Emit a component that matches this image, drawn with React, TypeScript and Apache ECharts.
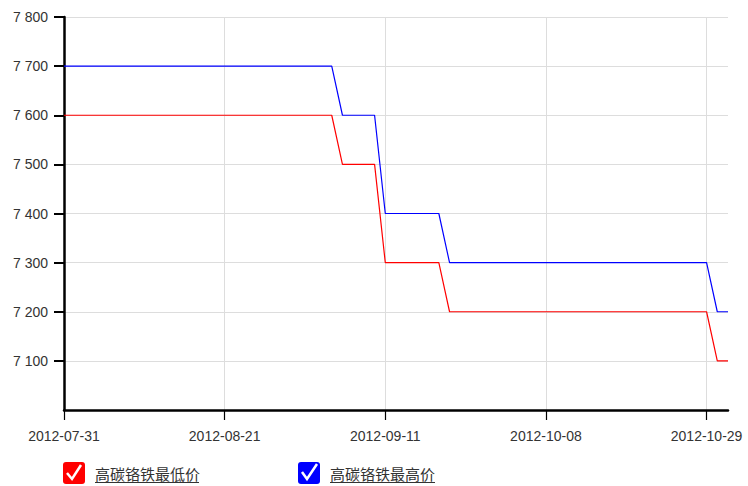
import React, { useEffect, useRef } from "react";
import * as echarts from "echarts";

const dates = [
  "2012-07-31", "2012-08-01", "2012-08-02", "2012-08-03", "2012-08-06", "2012-08-07", "2012-08-08", "2012-08-09",
  "2012-08-10", "2012-08-13", "2012-08-14", "2012-08-15", "2012-08-16", "2012-08-17", "2012-08-20", "2012-08-21",
  "2012-08-22", "2012-08-23", "2012-08-24", "2012-08-27", "2012-08-28", "2012-08-29", "2012-08-30", "2012-08-31",
  "2012-09-03", "2012-09-04", "2012-09-05", "2012-09-06", "2012-09-07", "2012-09-10", "2012-09-11",
  "2012-09-12", "2012-09-13", "2012-09-14", "2012-09-17", "2012-09-18", "2012-09-19", "2012-09-20", "2012-09-21",
  "2012-09-24", "2012-09-25", "2012-09-26", "2012-09-27", "2012-09-28", "2012-09-29", "2012-10-08",
  "2012-10-09", "2012-10-10", "2012-10-11", "2012-10-12", "2012-10-15", "2012-10-16", "2012-10-17", "2012-10-18",
  "2012-10-19", "2012-10-22", "2012-10-23", "2012-10-24", "2012-10-25", "2012-10-26", "2012-10-29",
  "2012-10-30", "2012-10-31",
];

const lowPrice = [
  7600, 7600, 7600, 7600, 7600, 7600, 7600, 7600, 7600, 7600, 7600, 7600, 7600, 7600, 7600, 7600,
  7600, 7600, 7600, 7600, 7600, 7600, 7600, 7600, 7600, 7600,
  7500, 7500, 7500, 7500,
  7300, 7300, 7300, 7300, 7300, 7300,
  7200, 7200, 7200, 7200, 7200, 7200, 7200, 7200, 7200, 7200, 7200, 7200, 7200, 7200, 7200, 7200,
  7200, 7200, 7200, 7200, 7200, 7200, 7200, 7200, 7200,
  7100, 7100,
];

const highPrice = [
  7700, 7700, 7700, 7700, 7700, 7700, 7700, 7700, 7700, 7700, 7700, 7700, 7700, 7700, 7700, 7700,
  7700, 7700, 7700, 7700, 7700, 7700, 7700, 7700, 7700, 7700,
  7600, 7600, 7600, 7600,
  7400, 7400, 7400, 7400, 7400, 7400,
  7300, 7300, 7300, 7300, 7300, 7300, 7300, 7300, 7300, 7300, 7300, 7300, 7300, 7300, 7300, 7300,
  7300, 7300, 7300, 7300, 7300, 7300, 7300, 7300, 7300,
  7200, 7200,
];

const seriesNames = ["高碳铬铁最低价", "高碳铬铁最高价"];
const seriesColors = ["#ff0000", "#0000ff"];

const latin = "'Liberation Sans', Arial, sans-serif";
const cjk = "'Noto Sans CJK SC', sans-serif";
const boxIcon =
  "path://M3,0 H19 A3,3 0 0 1 22,3 V19 A3,3 0 0 1 19,22 H3 A3,3 0 0 1 0,19 V3 A3,3 0 0 1 3,0 Z";

export default function App() {
  const ref = useRef<HTMLDivElement>(null);

  useEffect(() => {
    document.body.style.margin = "0";
    if (!ref.current) return;
    const chart = echarts.init(ref.current, undefined, { renderer: "svg" });
    chart.setOption({
      animation: false,
      backgroundColor: "#ffffff",
      grid: { left: 64, right: 20, top: 17, bottom: 76, containLabel: false },
      xAxis: {
        type: "category",
        data: dates,
        boundaryGap: false,
        axisLine: { show: true, lineStyle: { color: "#000", width: 2.5 } },
        axisTick: { show: true, interval: 14, length: 10, lineStyle: { color: "#000", width: 1.2 } },
        axisLabel: { interval: 14, fontSize: 14, color: "#333", margin: 19, fontFamily: latin },
        splitLine: { show: true, interval: 14, lineStyle: { color: "#dddddd", width: 1 } },
      },
      yAxis: {
        type: "value",
        min: 7000,
        max: 7800,
        interval: 100,
        axisLine: { show: true, lineStyle: { color: "#000", width: 2.5 } },
        axisTick: { show: true, length: 10, lineStyle: { color: "#000", width: 2 } },
        axisLabel: {
          showMinLabel: false,
          fontSize: 14,
          color: "#333",
          margin: 16,
          fontFamily: latin,
          formatter: (v: number) => {
            const s = String(v);
            return s.length > 3 ? s.slice(0, s.length - 3) + " " + s.slice(-3) : s;
          },
        },
        splitLine: { show: true, lineStyle: { color: "#dddddd", width: 1 } },
      },
      legend: {
        data: seriesNames,
        left: 63,
        top: 462,
        padding: 0,
        icon: boxIcon,
        itemWidth: 22,
        itemHeight: 22,
        itemGap: 98,
        textStyle: { fontSize: 15, color: "#333", fontFamily: cjk, padding: [0, 0, 0, 5] },
      },
      series: [
        {
          name: seriesNames[0],
          type: "line",
          data: lowPrice,
          symbol: "none",
          color: seriesColors[0],
          lineStyle: { color: seriesColors[0], width: 1.2 },
        },
        {
          name: seriesNames[1],
          type: "line",
          data: highPrice,
          symbol: "none",
          color: seriesColors[1],
          lineStyle: { color: seriesColors[1], width: 1.2 },
        },
      ],
      graphic: [
        {
          type: "polyline",
          z: 100,
          shape: { points: [[67, 473], [72, 479], [81, 465]] },
          style: { stroke: "#fff", lineWidth: 2.5, fill: null },
        },
        {
          type: "polyline",
          z: 100,
          shape: { points: [[302, 472], [307, 479], [317, 464]] },
          style: { stroke: "#fff", lineWidth: 2.5, fill: null },
        },
        {
          type: "line",
          z: 100,
          shape: { x1: 95, y1: 482.5, x2: 199, y2: 482.5 },
          style: { stroke: "#333", lineWidth: 1 },
        },
        {
          type: "line",
          z: 100,
          shape: { x1: 330, y1: 482.5, x2: 435, y2: 482.5 },
          style: { stroke: "#333", lineWidth: 1 },
        },
      ],
    });
    return () => chart.dispose();
  }, []);

  return <div ref={ref} style={{ width: 748, height: 486 }} />;
}
